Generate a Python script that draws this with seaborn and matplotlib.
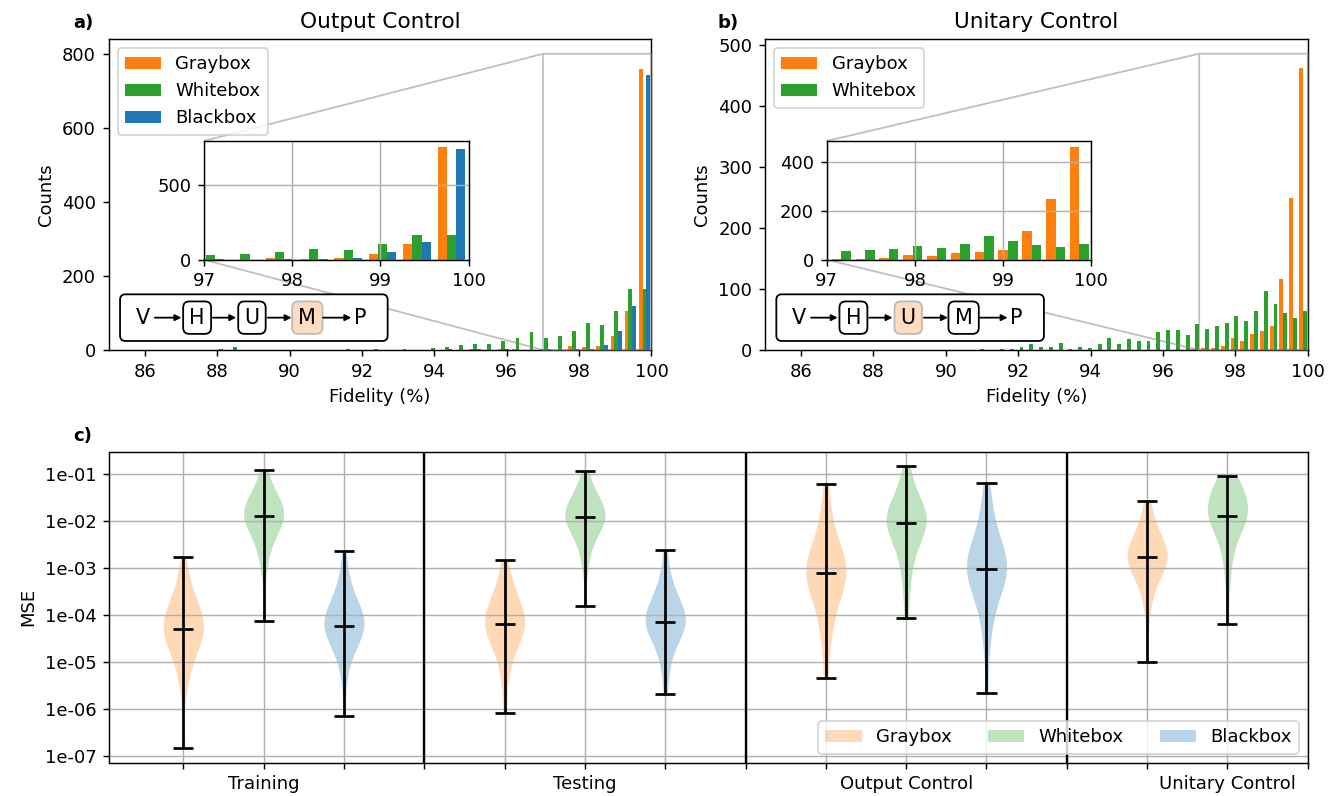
import numpy as np
import pandas as pd
import matplotlib
matplotlib.use('Agg')
import matplotlib.pyplot as plt
import seaborn as sns
from matplotlib.patches import FancyBboxPatch, Patch

models = ['Graybox', 'Whitebox', 'Blackbox']
colors = ['#ff7f0e', '#2ca02c', '#1f77b4']

# --- histogram counts, Output Control (40 bins of 0.39 % from 84.4 to 100)
out_edges = np.linspace(84.4, 100.0, 41)
out_gray = [0, 0, 0, 0, 0, 0, 0, 0, 0, 0,
            0, 0, 0, 0, 0, 0, 0, 0, 0, 0,
            0, 0, 0, 0, 0, 0, 0, 3, 0, 4,
            3, 0, 2, 1, 11, 7, 12, 38, 106, 760]
out_white = [0, 0, 0, 0, 0, 0, 0, 0, 0, 4,
             8, 0, 0, 0, 0, 0, 0, 0, 3, 0,
             3, 0, 3, 0, 5, 8, 13, 17, 17, 23,
             32, 48, 33, 39, 51, 73, 67, 106, 166, 166]
out_black = [0, 0, 0, 0, 0, 0, 0, 0, 0, 0,
             0, 0, 0, 0, 0, 0, 0, 0, 0, 0,
             0, 0, 0, 0, 0, 4, 0, 3, 0, 4,
             0, 0, 3, 1, 3, 4, 13, 52, 118, 744]

# --- histogram counts, Unitary Control (50 bins of 0.27 % from 86.5 to 100)
uni_edges = np.linspace(86.5, 100.0, 51)
uni_gray = [0, 0, 0, 0, 0, 0, 0, 0, 0, 0,
            0, 0, 0, 0, 0, 0, 0, 0, 0, 0,
            0, 0, 0, 0, 0, 0, 0, 0, 0, 0,
            0, 0, 0, 0, 0, 0, 0, 0, 2, 3,
            3, 7, 19, 15, 27, 31, 40, 117, 248, 462]
uni_white = [0, 0, 0, 0, 0, 0, 0, 0, 0, 0,
             0, 0, 0, 0, 0, 0, 2, 0, 2, 2,
             5, 10, 5, 5, 11, 2, 5, 3, 10, 20,
             10, 18, 15, 15, 29, 33, 33, 24, 42, 35,
             40, 44, 56, 48, 64, 97, 76, 60, 52, 64]

# --- log10(MSE) samples for the violins
train_gray = [-6.84, -5.60, -5.25, -5.00, -4.85, -4.72, -4.62, -4.53, -4.46, -4.40, -4.35, -4.32, -4.30,
              -4.24, -4.18, -4.12, -4.06, -4.00, -3.93, -3.85, -3.75, -3.62, -3.45, -3.22, -2.78]
train_white = [-4.13, -3.05, -2.75, -2.55, -2.40, -2.28, -2.18, -2.10, -2.04, -1.99, -1.95, -1.92, -1.90,
               -1.86, -1.82, -1.79, -1.75, -1.71, -1.66, -1.60, -1.53, -1.45, -1.35, -1.20, -0.92]
train_black = [-6.16, -5.30, -5.00, -4.80, -4.66, -4.55, -4.46, -4.39, -4.33, -4.29, -4.26, -4.24, -4.23,
               -4.17, -4.11, -4.05, -3.99, -3.93, -3.86, -3.78, -3.68, -3.55, -3.38, -3.15, -2.64]
test_gray = [-6.10, -5.45, -5.10, -4.88, -4.72, -4.60, -4.50, -4.42, -4.35, -4.29, -4.25, -4.22, -4.19,
             -4.13, -4.07, -4.01, -3.95, -3.89, -3.82, -3.74, -3.64, -3.52, -3.37, -3.15, -2.84]
test_white = [-3.82, -3.00, -2.72, -2.52, -2.38, -2.27, -2.18, -2.10, -2.04, -2.00, -1.97, -1.95, -1.93,
              -1.88, -1.84, -1.80, -1.76, -1.72, -1.67, -1.61, -1.54, -1.46, -1.36, -1.20, -0.95]
test_black = [-5.69, -5.20, -4.92, -4.74, -4.60, -4.49, -4.40, -4.32, -4.26, -4.21, -4.18, -4.16, -4.15,
              -4.09, -4.03, -3.97, -3.91, -3.85, -3.78, -3.70, -3.60, -3.48, -3.32, -3.10, -2.62]
outc_gray = [-5.35, -4.75, -4.40, -4.15, -3.95, -3.78, -3.63, -3.50, -3.40, -3.32, -3.25, -3.19, -3.15, -3.12,
             -3.06, -3.00, -2.94, -2.88, -2.82, -2.75, -2.66, -2.55, -2.42, -2.25, -2.00, -1.65, -1.22]
outc_white = [-4.06, -3.55, -3.22, -2.98, -2.78, -2.62, -2.50, -2.40, -2.31, -2.23, -2.16, -2.10, -2.07, -2.04,
              -1.99, -1.95, -1.91, -1.87, -1.83, -1.78, -1.72, -1.65, -1.56, -1.45, -1.30, -1.10, -0.83]
outc_black = [-5.67, -4.70, -4.30, -4.02, -3.80, -3.62, -3.47, -3.35, -3.26, -3.18, -3.12, -3.08, -3.05, -3.03,
              -2.97, -2.91, -2.85, -2.79, -2.72, -2.64, -2.54, -2.42, -2.27, -2.08, -1.85, -1.55, -1.20]
unic_gray = [-5.01, -3.95, -3.62, -3.40, -3.24, -3.12, -3.03, -2.96, -2.90, -2.85, -2.82, -2.80, -2.78,
             -2.74, -2.70, -2.66, -2.61, -2.56, -2.50, -2.42, -2.33, -2.21, -2.06, -1.86, -1.58]
unic_white = [-4.20, -3.30, -2.90, -2.62, -2.42, -2.26, -2.13, -2.03, -1.96, -1.93, -1.92, -1.91, -1.90,
              -1.82, -1.74, -1.67, -1.60, -1.54, -1.48, -1.42, -1.36, -1.30, -1.23, -1.15, -1.04]

group_names = ['Training', 'Testing', 'Output Control', 'Unitary Control']
group_data = [[train_gray, train_white, train_black],
              [test_gray, test_white, test_black],
              [outc_gray, outc_white, outc_black],
              [unic_gray, unic_white]]
mse_ticks = [-7, -6, -5, -4, -3, -2, -1]

fig = plt.figure(figsize=(1338 / 130, 796 / 130), dpi=130)


def chain(ax, active):
    # small V -> H -> U -> M -> P diagram in the lower left corner
    box = FancyBboxPatch((0.021, 0.029), 0.493, 0.15, transform=ax.transAxes,
                         boxstyle='round,pad=0,rounding_size=0.01', mutation_aspect=1.75,
                         fc='white', ec='black', lw=1.0, zorder=6)
    ax.add_patch(box)
    xs = [0.063, 0.163, 0.264, 0.366, 0.463]
    for lab, x in zip(['V', 'H', 'U', 'M', 'P'], xs):
        kw = {}
        if lab in ('H', 'U', 'M'):
            if lab == active:
                kw['bbox'] = dict(boxstyle='round,pad=0.3', fc='#fddcbf', ec='#bbbbbb', lw=1.0)
            else:
                kw['bbox'] = dict(boxstyle='round,pad=0.3', fc='white', ec='black', lw=1.0)
        ax.text(x, 0.104, lab, transform=ax.transAxes, ha='center', va='center',
                fontsize=11.5, zorder=7, **kw)
    segs = [(0.085, 0.134), (0.192, 0.235), (0.293, 0.337), (0.395, 0.447)]
    for a, b in segs:
        ax.annotate('', xy=(b, 0.104), xytext=(a, 0.104), xycoords='axes fraction',
                    arrowprops=dict(arrowstyle='-|>', color='black', lw=1.0,
                                    mutation_scale=7, shrinkA=0, shrinkB=0), zorder=7)


def hist_panel(rect, inset_x0, edges, counts, n, title, ylim, inset_ylim, inset_yticks, active):
    ax = fig.add_axes(rect)
    centers = (edges[:-1] + edges[1:]) / 2
    ax.hist([centers] * n, bins=edges, weights=counts, color=colors[:n], label=models[:n])
    ax.set_xlim(85, 100)
    ax.set_ylim(*ylim)
    ax.set_xlabel('Fidelity (%)')
    ax.set_ylabel('Counts')
    ax.set_title(title)
    ax.legend(loc='upper left')
    axins = ax.inset_axes([inset_x0, 0.2904, 0.4877, 0.3817])
    axins.hist([centers] * n, bins=edges, weights=counts, color=colors[:n])
    axins.set_xlim(97, 100)
    axins.set_ylim(*inset_ylim)
    axins.set_xticks([97, 98, 99, 100])
    axins.set_yticks(inset_yticks)
    axins.grid(True)
    ax.indicate_inset_zoom(axins, edgecolor='gray')
    chain(ax, active)
    return ax


hist_panel([0.0812, 0.5603, 0.4057, 0.3907], 0.1756, out_edges,
           [out_gray, out_white, out_black], 3, 'Output Control',
           (0, 840), (0, 800), [0, 500], 'M')
hist_panel([0.5717, 0.5603, 0.4057, 0.3907], 0.1137, uni_edges,
           [uni_gray, uni_white], 2, 'Unitary Control',
           (0, 509), (0, 485), [0, 200, 400], 'U')

# --- violin panel
rows = []
for g, data in enumerate(group_data):
    for m, vals in enumerate(data):
        for v in vals:
            rows.append((4 * g + m + 1, models[m], v))
df = pd.DataFrame(rows, columns=['pos', 'model', 'log_mse'])

axc = fig.add_axes([0.0815, 0.0418, 0.8959, 0.3907])
sns.violinplot(data=df, x='pos', y='log_mse', hue='model', hue_order=models, palette=colors,
               native_scale=True, dodge=False, cut=0, inner=None, density_norm='width',
               width=0.5, linewidth=0, saturation=1, alpha=0.3, legend=False, ax=axc)
stats = df.groupby('pos')['log_mse'].agg(['min', 'max', 'median'])
axc.vlines(stats.index, stats['min'], stats['max'], color='black', lw=1.5, zorder=3)
for col in ['min', 'max', 'median']:
    axc.hlines(stats[col], stats.index - 0.125, stats.index + 0.125, color='black', lw=1.5, zorder=3)
for x in [4, 8, 12]:
    axc.axvline(x, color='black', lw=1.3, zorder=3)

xt = list(range(1, 16))
xl = ['' for _ in xt]
for g, name in enumerate(group_names):
    xl[4 * g + 1] = name
axc.set_xticks(xt)
axc.set_xticklabels(xl)
axc.set_yticks(mse_ticks)
axc.set_yticklabels([f'{10.0 ** t:.0e}' for t in mse_ticks])
axc.set_xlim(0.075, 15)
axc.set_ylim(-7.15, -0.53)
axc.set_xlabel('')
axc.set_ylabel('MSE')
axc.grid(True)
handles = [Patch(facecolor=c, alpha=0.3) for c in colors]
axc.legend(handles, models, loc='lower right', ncol=3)

fig.text(0.0546, 0.965, 'a)', fontweight='bold', va='baseline')
fig.text(0.5366, 0.965, 'b)', fontweight='bold', va='baseline')
fig.text(0.0546, 0.446, 'c)', fontweight='bold', va='baseline')

fig.savefig('out.png', dpi=130)
